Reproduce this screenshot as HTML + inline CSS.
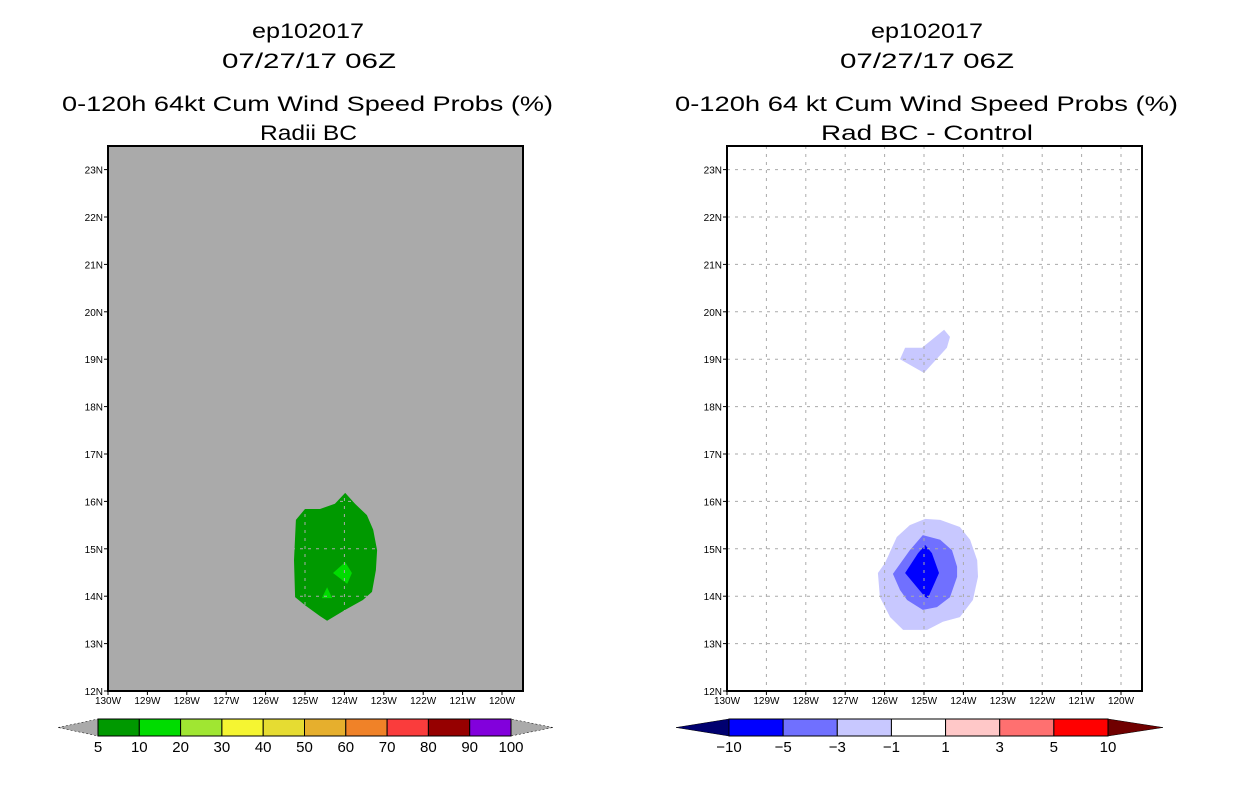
<!DOCTYPE html>
<html><head><meta charset="utf-8"><style>
html,body{margin:0;padding:0;background:#fff;}
svg{display:block;font-family:"Liberation Sans",sans-serif;}
</style></head><body>
<svg id="chart" width="1236" height="800" viewBox="0 0 1236 800">
<rect width="1236" height="800" fill="#fff"/>
<g id="titles" font-size="21" fill="#000" text-anchor="start">
<text x="252" y="38" textLength="112" lengthAdjust="spacingAndGlyphs">ep102017</text>
<text x="222" y="68" textLength="174" lengthAdjust="spacingAndGlyphs">07/27/17 06Z</text>
<text x="62" y="111" textLength="491" lengthAdjust="spacingAndGlyphs">0-120h 64kt Cum Wind Speed Probs (%)</text>
<text x="260" y="140" textLength="97" lengthAdjust="spacingAndGlyphs">Radii BC</text>
<text x="871" y="38" textLength="112" lengthAdjust="spacingAndGlyphs">ep102017</text>
<text x="840" y="68" textLength="174" lengthAdjust="spacingAndGlyphs">07/27/17 06Z</text>
<text x="675" y="111" textLength="503" lengthAdjust="spacingAndGlyphs">0-120h 64 kt Cum Wind Speed Probs (%)</text>
<text x="821" y="140" textLength="212" lengthAdjust="spacingAndGlyphs">Rad BC - Control</text>
</g>
<g id="left"></g>
<g id="right"></g>
</svg>
<script>
const lonTicks = [-130,-129,-128,-127,-126,-125,-124,-123,-122,-121,-120];
const lonLabels = ["130W","129W","128W","127W","126W","125W","124W","123W","122W","121W","120W"];
const latTicks = [12,13,14,15,16,17,18,19,20,21,22,23];
const latLabels = ["12N","13N","14N","15N","16N","17N","18N","19N","20N","21N","22N","23N"];
// Left panel contours (lon, lat)
const leftOuter10 = [[-123.98,16.18],[-123.73,15.95],[-123.43,15.71],[-123.27,15.40],[-123.17,14.97],[-123.20,14.55],[-123.30,14.09],[-123.53,13.92],[-123.98,13.71],[-124.44,13.48],[-124.62,13.58],[-125.0,13.81],[-125.25,13.98],[-125.28,14.76],[-125.23,15.61],[-125.0,15.84],[-124.62,15.84],[-124.24,15.95]];
const leftInner20a = [[-123.98,14.72],[-123.81,14.49],[-123.93,14.26],[-124.29,14.49]];
const leftInner20b = [[-124.44,14.19],[-124.31,13.96],[-124.57,13.96]];
// Right panel contours
const rightBlobN = [[-124.49,19.62],[-124.34,19.47],[-124.42,19.24],[-125.0,18.71],[-125.61,19.0],[-125.48,19.24],[-125.05,19.24]];
const rightLight = [[-124.97,15.63],[-124.59,15.61],[-124.09,15.46],[-123.83,15.19],[-123.65,14.76],[-123.63,14.41],[-123.76,13.92],[-124.09,13.56],[-124.52,13.46],[-124.92,13.29],[-125.53,13.29],[-125.86,13.56],[-126.12,13.98],[-126.17,14.49],[-125.99,14.70],[-125.69,15.25],[-125.36,15.50]];
const rightMid = [[-125.03,15.29],[-124.59,15.19],[-124.29,14.97],[-124.16,14.62],[-124.16,14.41],[-124.34,13.98],[-124.67,13.77],[-125.03,13.71],[-125.43,13.92],[-125.61,14.13],[-125.79,14.47],[-125.36,14.97]];
const rightDark = [[-124.97,15.08],[-124.80,14.91],[-124.62,14.49],[-124.90,13.96],[-124.97,13.98],[-125.48,14.49],[-125.15,14.91]];
// Colorbars
const leftLevels = ["5","10","20","30","40","50","60","70","80","90","100"];
const leftColors = ["#009900","#00dc00","#a0e632","#f5f532","#e6dc32","#e6af2d","#f08228","#fa3c3c","#960000","#8200dc"];
const rightLevels = ["-10","-5","-3","-1","1","3","5","10"];
const rightColors = ["#0000ff","#7070ff","#c8c8ff","#ffffff","#ffc8c8","#ff7070","#ff0000"];

const NS="http://www.w3.org/2000/svg";
function mk(tag, attrs, parent){const e=document.createElementNS(NS,tag);for(const k in attrs)e.setAttribute(k,attrs[k]);parent.appendChild(e);return e;}
const DX=39.4, DY=47.4;
function panel(gid, x0, bg, polys, gridColor){
  const g=document.getElementById(gid);
  const xs=lon=>x0+(lon+130)*DX, ys=lat=>691-(lat-12)*DY;
  const W=415, top=146, bot=691;
  const bgR=mk('rect',{x:x0,y:top,width:W,height:bot-top,fill:bg},g);
  
  
  polys.forEach(p=>{
    const pg=mk('polygon',{points:p.pts.map(q=>xs(q[0]).toFixed(1)+','+ys(q[1]).toFixed(1)).join(' '),fill:p.c},g);
    
    
  });
  lonTicks.forEach((t,i)=>{
    const x=xs(t);
    if(i>0){const l=mk('line',{x1:x,y1:top,x2:x,y2:bot,stroke:gridColor,'stroke-width':1,'stroke-dasharray':'3,5'},g);
      
      }
    const tl=mk('line',{x1:x,y1:bot,x2:x,y2:bot+4,stroke:'#000'},g);
    
    
    const tx=mk('text',{x:x,y:bot+13,'font-size':10,'text-anchor':'middle'},g);
    tx.textContent=lonLabels[i];
    
    
  });
  latTicks.forEach((t,i)=>{
    const y=ys(t);
    if(i>0){const l=mk('line',{x1:x0,y1:y,x2:x0+W,y2:y,stroke:gridColor,'stroke-width':1,'stroke-dasharray':'3,5'},g);
      
      }
    const tl=mk('line',{x1:x0-4,y1:y,x2:x0,y2:y,stroke:'#000'},g);
    
    
    const tx=mk('text',{x:x0-5,y:y+4,'font-size':10,'text-anchor':'end'},g);
    tx.textContent=latLabels[i];
    
    
  });
  const fr=mk('rect',{x:x0,y:top,width:W,height:bot-top,fill:'none',stroke:'#000','stroke-width':2},g);
  
  
}
function colorbar(gid, bx0, bx1, t0, t1, colors, levels, lowC, highC){
  const g=document.getElementById(gid);
  const y0=719,y1=736,ym=727.5, w=(bx1-bx0)/colors.length;
  const lt=mk('polygon',{points:`${t0},${ym} ${bx0},${y0} ${bx0},${y1}`,fill:lowC,stroke:'#000','stroke-width':0.5,'stroke-dasharray':lowC==='#aaaaaa'?'2,2':'none'},g);
  
  
  const ht=mk('polygon',{points:`${t1},${ym} ${bx1},${y0} ${bx1},${y1}`,fill:highC,stroke:'#000','stroke-width':0.5,'stroke-dasharray':highC==='#aaaaaa'?'2,2':'none'},g);
  
  
  colors.forEach((c,i)=>{
    const r=mk('rect',{x:bx0+i*w,y:y0,width:w,height:y1-y0,fill:c,stroke:'#000','stroke-width':1},g);
    
    
  });
  levels.forEach((l,i)=>{
    const t=mk('text',{x:bx0+i*w,y:752,'font-size':15,'text-anchor':'middle'},g);
    t.textContent=l.replace('-','\u2212');
    
    
  });
}
panel('left',108,'#aaaaaa',[{pts:leftOuter10,c:'#009900',n:'prob-10-contour'},{pts:leftInner20a,c:'#00dc00',n:'prob-20-contour'},{pts:leftInner20b,c:'#00dc00',n:'prob-20-contour-small'}],'#aaaaaa');
panel('right',727,'#ffffff',[{pts:rightBlobN,c:'#c8c8ff',n:'diff-north-contour'},{pts:rightLight,c:'#c8c8ff',n:'diff-minus1-contour'},{pts:rightMid,c:'#7070ff',n:'diff-minus3-contour'},{pts:rightDark,c:'#0000ff',n:'diff-minus5-contour'}],'#aaaaaa');
colorbar('left',98,511,58,553,leftColors,leftLevels,'#aaaaaa','#aaaaaa');
colorbar('right',729,1108,676,1163,rightColors,rightLevels,'#000070','#700000');
</script>
</body></html>
